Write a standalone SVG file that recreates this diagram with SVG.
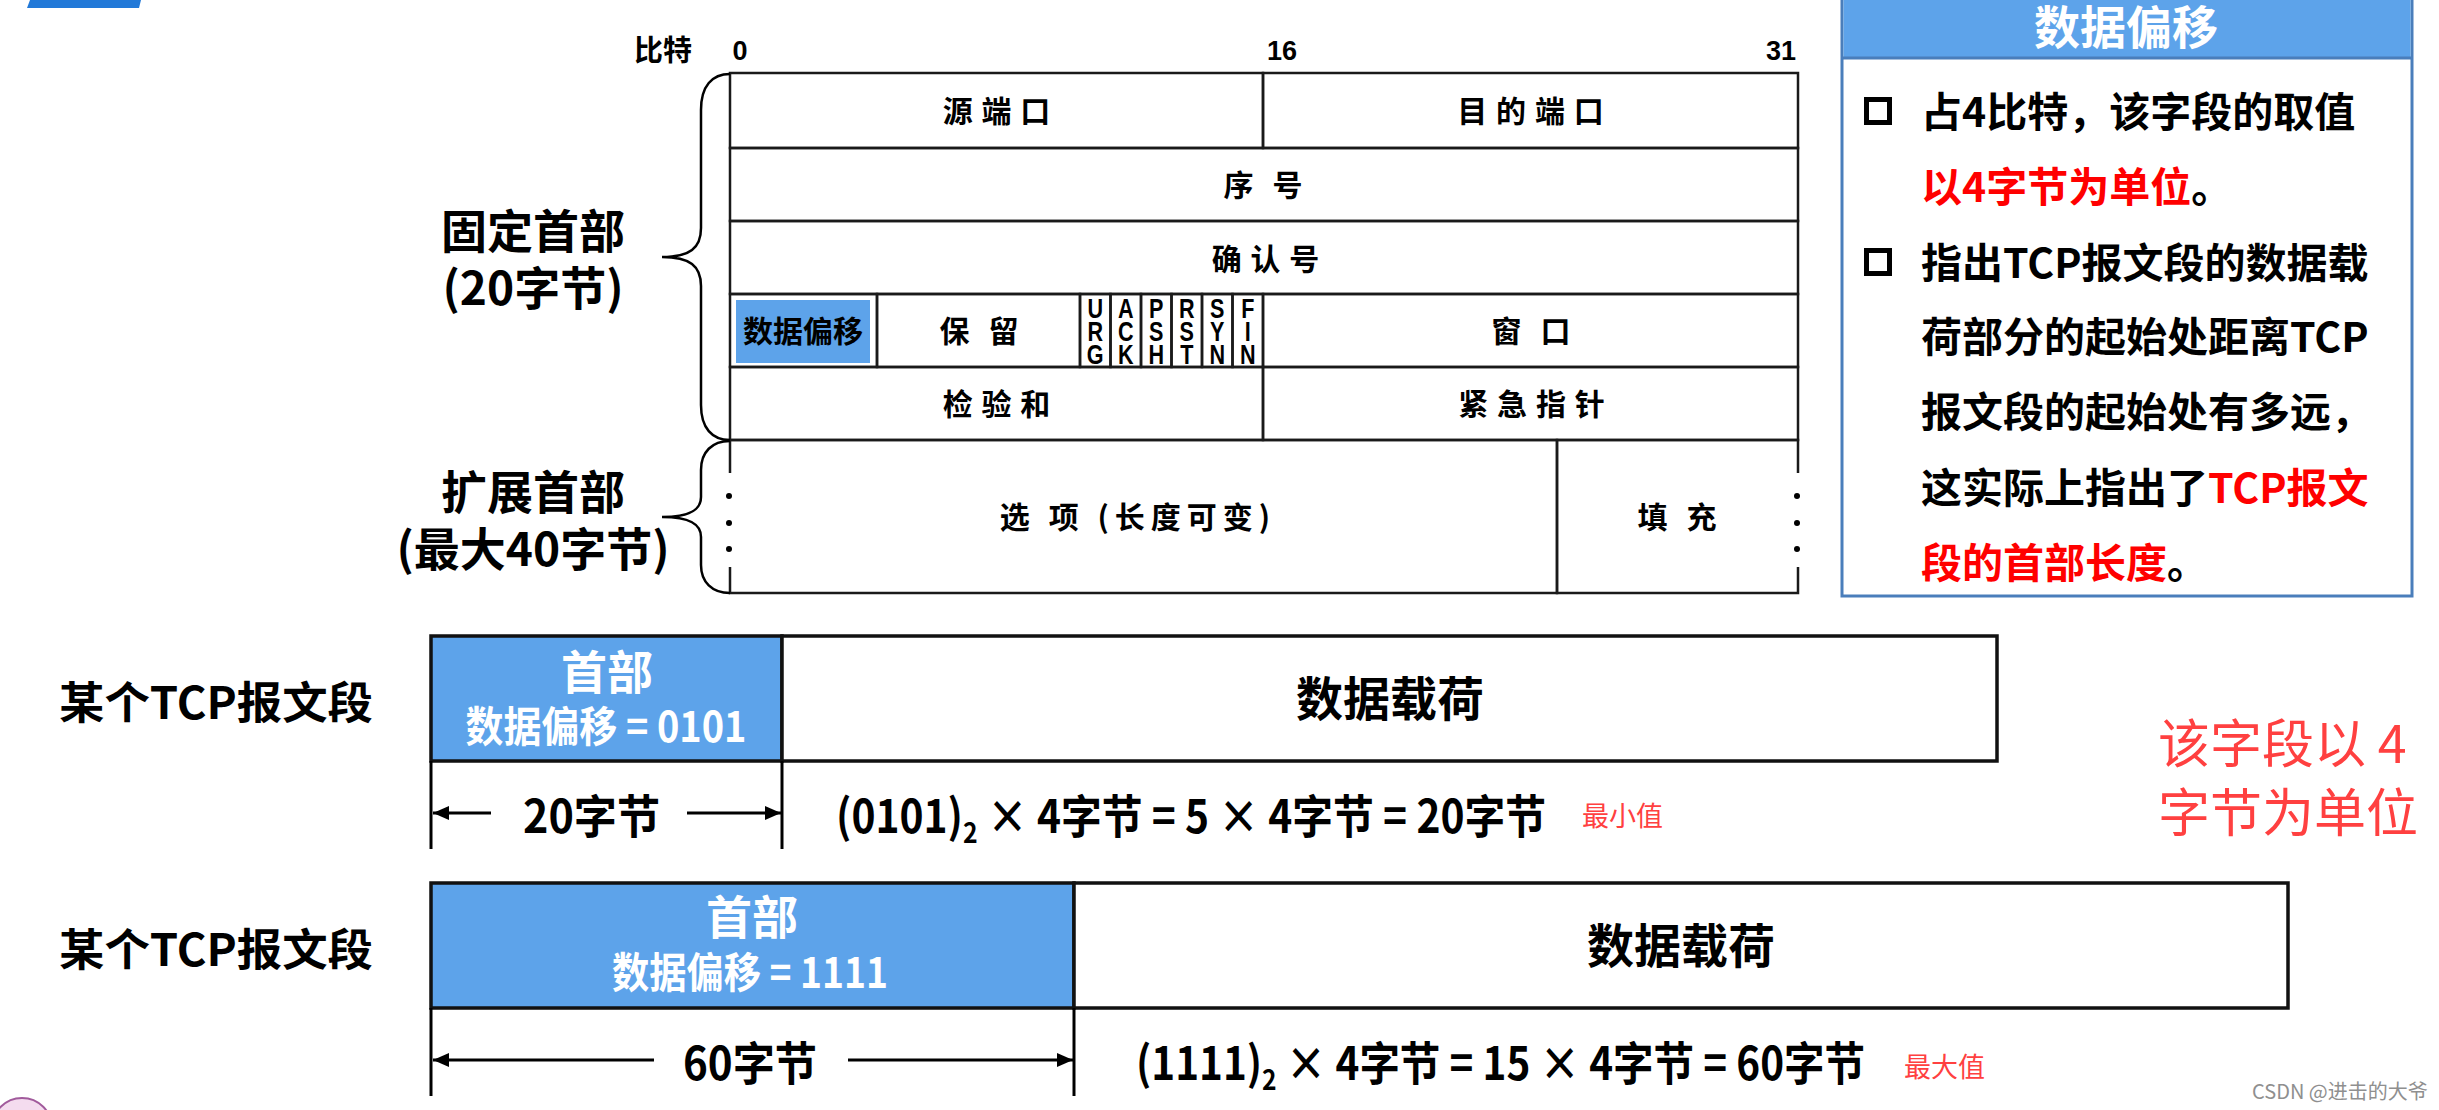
<svg xmlns="http://www.w3.org/2000/svg" width="2439" height="1110" viewBox="0 0 2439 1110">
<defs>
<style>
.cjk{font-family:"Noto Sans CJK SC","Liberation Sans",sans-serif;font-weight:700;}
.lat{font-family:"Liberation Sans","Noto Sans CJK SC",sans-serif;font-weight:700;}
.cell{fill:none;stroke:#1a1a1a;stroke-width:2.5;}
.t30{font-size:30px;fill:#000;text-anchor:middle;}
.flag{font-family:"Liberation Sans",sans-serif;font-weight:700;font-size:27px;text-anchor:middle;fill:#000;}
.blue{fill:#5DA3EA;}
.seg{stroke:#111;stroke-width:3.5;}
.dim{stroke:#000;stroke-width:3;fill:none;}
.brace{fill:none;stroke:#000;stroke-width:2.5;}
.wht{fill:#fff;text-anchor:middle;}
.red{fill:#FF0000;}
</style>
<marker id="arr" viewBox="0 0 16 14" refX="16" refY="7" markerWidth="16" markerHeight="14" markerUnits="userSpaceOnUse" orient="auto">
<path d="M0,0 L16,7 L0,14 z" fill="#000"/>
</marker>
</defs>
<rect x="0" y="0" width="2439" height="1110" fill="#fff"/>

<!-- top-left tab -->
<polygon points="30,0 141,0 139,8 27,8" fill="#2279D8"/>

<!-- bottom-left logo fragment -->
<g id="logo-fragment">
<circle cx="22" cy="1128" r="30" fill="#f4dcef" stroke="#a15a9c" stroke-width="2"/>
</g>

<!-- bit scale -->
<g id="bit-scale">
<text class="cjk" x="663" y="61" font-size="29" text-anchor="middle">比特</text>
<text class="lat" x="740" y="60" font-size="27" text-anchor="middle">0</text>
<text class="lat" x="1282" y="60" font-size="27" text-anchor="middle">16</text>
<text class="lat" x="1781" y="60" font-size="27" text-anchor="middle">31</text>
</g>

<!-- header fields -->
<g id="src-port"><rect class="cell" x="730" y="73" width="533" height="75"/><text class="cjk t30" x="997" y="122" letter-spacing="1">源 端 口</text></g>
<g id="dst-port"><rect class="cell" x="1263" y="73" width="535" height="75"/><text class="cjk t30" x="1531" y="122" letter-spacing="1">目 的 端 口</text></g>
<g id="seq"><rect class="cell" x="730" y="148" width="1068" height="73"/><text class="cjk t30" x="1266" y="196" letter-spacing="6">序 号</text></g>
<g id="ack"><rect class="cell" x="730" y="221" width="1068" height="73"/><text class="cjk t30" x="1266" y="270" letter-spacing="1">确 认 号</text></g>
<g id="data-offset"><rect class="cell" x="730" y="294" width="147" height="73"/><rect class="blue" x="736" y="300" width="134" height="63"/><text class="cjk t30" x="803" y="342">数据偏移</text></g>
<g id="reserved"><rect class="cell" x="877" y="294" width="203" height="73"/><text class="cjk t30" x="982" y="342" letter-spacing="6">保 留</text></g>
<g id="flags">
<rect class="cell" x="1080" y="294" width="30.5" height="73"/>
<rect class="cell" x="1110.5" y="294" width="30.5" height="73"/>
<rect class="cell" x="1141" y="294" width="30.5" height="73"/>
<rect class="cell" x="1171.5" y="294" width="30.5" height="73"/>
<rect class="cell" x="1202" y="294" width="30.5" height="73"/>
<rect class="cell" x="1232.5" y="294" width="30.5" height="73"/>
<g transform="translate(1095.25,0) scale(0.8,1)"><text class="flag" x="0" y="318">U</text><text class="flag" x="0" y="341">R</text><text class="flag" x="0" y="364">G</text></g>
<g transform="translate(1125.75,0) scale(0.8,1)"><text class="flag" x="0" y="318">A</text><text class="flag" x="0" y="341">C</text><text class="flag" x="0" y="364">K</text></g>
<g transform="translate(1156.25,0) scale(0.8,1)"><text class="flag" x="0" y="318">P</text><text class="flag" x="0" y="341">S</text><text class="flag" x="0" y="364">H</text></g>
<g transform="translate(1186.75,0) scale(0.8,1)"><text class="flag" x="0" y="318">R</text><text class="flag" x="0" y="341">S</text><text class="flag" x="0" y="364">T</text></g>
<g transform="translate(1217.25,0) scale(0.8,1)"><text class="flag" x="0" y="318">S</text><text class="flag" x="0" y="341">Y</text><text class="flag" x="0" y="364">N</text></g>
<g transform="translate(1247.75,0) scale(0.8,1)"><text class="flag" x="0" y="318">F</text><text class="flag" x="0" y="341">I</text><text class="flag" x="0" y="364">N</text></g>
</g>
<g id="window"><rect class="cell" x="1263" y="294" width="535" height="73"/><text class="cjk t30" x="1534" y="342" letter-spacing="6">窗 口</text></g>
<g id="checksum"><rect class="cell" x="730" y="367" width="533" height="73"/><text class="cjk t30" x="997" y="415" letter-spacing="1">检 验 和</text></g>
<g id="urgent"><rect class="cell" x="1263" y="367" width="535" height="73"/><text class="cjk t30" x="1532" y="415" letter-spacing="1">紧 急 指 针</text></g>
<g id="options">
<path class="cell" d="M730,473 L730,440 L1557,440 L1557,593 L730,593 L730,567"/>
<circle cx="729" cy="496" r="3"/><circle cx="729" cy="523" r="3"/><circle cx="729" cy="549" r="3"/>
<text class="cjk t30" x="1138" y="528" letter-spacing="6">选 项 (长度可变)</text>
</g>
<g id="padding">
<path class="cell" d="M1798,473 L1798,440 L1557,440 L1557,593 L1798,593 L1798,567"/>
<circle cx="1797" cy="496" r="3"/><circle cx="1797" cy="523" r="3"/><circle cx="1797" cy="549" r="3"/>
<text class="cjk t30" x="1680" y="528" letter-spacing="6">填 充</text>
</g>

<!-- braces -->
<g id="braces">
<path class="brace" d="M730,74 C712,74 701,86 701,110 L701,228 C701,248 690,257 662,257 C690,257 701,266 701,286 L701,405 C701,428 712,440 730,440"/>
<path class="brace" d="M730,441 C712,441 701,452 701,470 L701,497 C701,510 690,517 662,517 C690,517 701,524 701,537 L701,565 C701,582 712,593 730,593"/>
</g>
<g id="fixed-label">
<text class="cjk" x="533" y="248" font-size="46" text-anchor="middle">固定首部</text>
<text class="cjk" x="533" y="305" font-size="46" text-anchor="middle">(20字节)</text>
</g>
<g id="ext-label">
<text class="cjk" x="533" y="509" font-size="46" text-anchor="middle">扩展首部</text>
<text class="cjk" x="533" y="566" font-size="46" text-anchor="middle">(最大40字节)</text>
</g>

<!-- right panel -->
<g id="panel">
<rect x="1842" y="-3" width="570" height="599" fill="#fff" stroke="#4A7EBB" stroke-width="3"/>
<rect x="1843.5" y="-2" width="567" height="60" class="blue"/>
<line x1="1842" y1="58" x2="2412" y2="58" stroke="#4A7EBB" stroke-width="3"/>
<text class="cjk wht" x="2126" y="44" font-size="46">数据偏移</text>
<rect x="1866.5" y="99.5" width="23" height="23" fill="none" stroke="#000" stroke-width="5"/>
<rect x="1866.5" y="250.5" width="23" height="23" fill="none" stroke="#000" stroke-width="5"/>
<g class="cjk" font-size="41">
<text x="1921" y="127">占4比特，该字段的取值</text>
<text x="1921" y="202"><tspan class="red">以4字节为单位</tspan>。</text>
<text x="1921" y="278">指出TCP报文段的数据载</text>
<text x="1921" y="352">荷部分的起始处距离TCP</text>
<text x="1921" y="427">报文段的起始处有多远，</text>
<text x="1921" y="503">这实际上指出了<tspan class="red">TCP报文</tspan></text>
<text x="1921" y="578"><tspan class="red">段的首部长度</tspan>。</text>
</g>
</g>

<!-- segment 1 -->
<g id="seg1-label"><text class="cjk" x="59" y="719" font-size="44" textLength="314" lengthAdjust="spacingAndGlyphs">某个TCP报文段</text></g>
<g id="seg1-header">
<rect class="blue seg" x="431" y="636" width="351" height="125"/>
<text class="cjk wht" x="607" y="689" font-size="46">首部</text>
<text class="cjk wht" x="606" y="742" font-size="42" textLength="281" lengthAdjust="spacingAndGlyphs">数据偏移 = 0101</text>
</g>
<g id="seg1-payload">
<rect class="seg" fill="#fff" x="782" y="636" width="1215" height="125"/>
<text class="cjk" x="1390" y="716" font-size="47" text-anchor="middle">数据载荷</text>
</g>
<g id="seg1-dims">
<line class="dim" x1="431" y1="761" x2="431" y2="849"/>
<line class="dim" x1="782" y1="761" x2="782" y2="849"/>
<text class="cjk" x="523" y="833" font-size="46" textLength="137" lengthAdjust="spacingAndGlyphs">20字节</text>
<text class="cjk" x="836" y="833" font-size="46" textLength="710" lengthAdjust="spacingAndGlyphs">(0101)<tspan dy="10" font-size="28">2</tspan><tspan dy="-10"> × 4字节 = 5 × 4字节 = 20字节</tspan></text>
<text x="1582" y="826" font-family="Noto Sans CJK SC, sans-serif" font-size="27" fill="#FF4040">最小值</text>
</g>

<!-- segment 2 -->
<g id="seg2-label"><text class="cjk" x="59" y="966" font-size="44" textLength="314" lengthAdjust="spacingAndGlyphs">某个TCP报文段</text></g>
<g id="seg2-header">
<rect class="blue seg" x="431" y="883" width="643" height="125"/>
<text class="cjk wht" x="752" y="934" font-size="46">首部</text>
<text class="cjk wht" x="750" y="988" font-size="42" textLength="276" lengthAdjust="spacingAndGlyphs">数据偏移 = 1111</text>
</g>
<g id="seg2-payload">
<rect class="seg" fill="#fff" x="1074" y="883" width="1214" height="125"/>
<text class="cjk" x="1681" y="963" font-size="47" text-anchor="middle">数据载荷</text>
</g>
<g id="seg2-dims">
<line class="dim" x1="431" y1="1008" x2="431" y2="1096"/>
<line class="dim" x1="1074" y1="1008" x2="1074" y2="1096"/>
<text class="cjk" x="683" y="1080" font-size="46" textLength="134" lengthAdjust="spacingAndGlyphs">60字节</text>
<text class="cjk" x="1136" y="1080" font-size="46" textLength="729" lengthAdjust="spacingAndGlyphs">(1111)<tspan dy="10" font-size="28">2</tspan><tspan dy="-10"> × 4字节 = 15 × 4字节 = 60字节</tspan></text>
<text x="1904" y="1077" font-family="Noto Sans CJK SC, sans-serif" font-size="27" fill="#FF4040">最大值</text>
</g>

<!-- connectors (dimension arrows) -->
<g id="connectors">
<line class="dim" x1="491" y1="813" x2="433" y2="813" marker-end="url(#arr)"/>
<line class="dim" x1="687" y1="813" x2="781" y2="813" marker-end="url(#arr)"/>
<line class="dim" x1="654" y1="1060" x2="433" y2="1060" marker-end="url(#arr)"/>
<line class="dim" x1="848" y1="1060" x2="1073" y2="1060" marker-end="url(#arr)"/>
</g>

<!-- note -->
<g id="note">
<text x="2158" y="763" font-family="Noto Sans CJK SC, sans-serif" font-size="52" fill="#FF4040">该字段以 4</text>
<text x="2158" y="832" font-family="Noto Sans CJK SC, sans-serif" font-size="52" fill="#FF4040">字节为单位</text>
</g>

<text x="2252" y="1099" font-family="Noto Sans CJK SC, sans-serif" font-size="20" fill="#8f8f8f">CSDN @进击的大爷</text>
</svg>
